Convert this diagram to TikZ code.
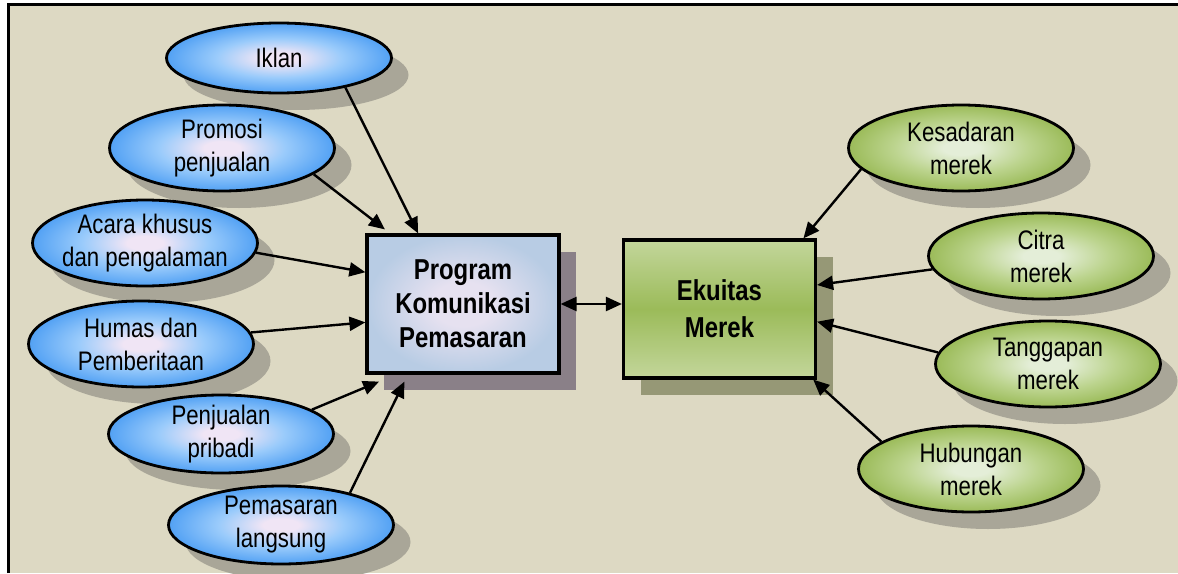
\documentclass[tikz,border=0pt]{standalone}
\usepackage{fontspec}
\setmainfont{Liberation Sans}[FakeStretch=0.83]
\usetikzlibrary{arrows.meta,calc,shadows,shapes.geometric}
\definecolor{bgbeige}{HTML}{DDD9C3}
\definecolor{ellshadow}{HTML}{A9A698}
\definecolor{progshadow}{HTML}{8A8088}
\definecolor{ekushadow}{HTML}{969876}
\definecolor{blueC}{HTML}{F0E5F5}
\definecolor{blueM}{HTML}{9ACBFB}
\definecolor{blueO}{HTML}{52A1F4}
\definecolor{greenC}{HTML}{E4EED8}
\definecolor{greenM}{HTML}{BCD48E}
\definecolor{greenO}{HTML}{9BBB59}
\definecolor{progC}{HTML}{E6E1F0}
\definecolor{progO}{HTML}{B8CCE4}
\definecolor{ekuTop}{HTML}{C3D69B}
\pgfdeclareradialshading{blueglow}{\pgfpointorigin}{color(0bp)=(blueC); color(4bp)=(blueC); color(14bp)=(blueM); color(25bp)=(blueO); color(50bp)=(blueO)}
\pgfdeclareradialshading{greenglow}{\pgfpointorigin}{color(0bp)=(greenC); color(4bp)=(greenC); color(15bp)=(greenM); color(25bp)=(greenO); color(50bp)=(greenO)}
\pgfdeclareradialshading{progglow}{\pgfpointorigin}{color(0bp)=(progC); color(8bp)=(progC); color(25bp)=(progO); color(50bp)=(progO)}

\begin{document}
\begin{tikzpicture}[x=0.5pt,y=-0.5pt,
    ell/.style={ellipse, draw, line width=1.4pt, minimum width=112.5pt, minimum height=43pt, inner xsep=-3pt, inner ysep=-1pt, align=center, font=\fontsize{13.4}{16.5}\selectfont, general shadow={fill=ellshadow, shadow xshift=8.5pt, shadow yshift=-8.5pt}},
    blueell/.style={ell, shade, shading=blueglow},
    greenell/.style={ell, shade, shading=greenglow},
    bigbox/.style={rectangle, draw, line width=1.6pt, minimum width=96pt, minimum height=69pt, align=center, font=\fontsize{14.4}{17}\selectfont\bfseries},
    arrow/.style={-{Triangle[length=8pt,width=7pt]}, line width=1.2pt}
  ]
    \useasboundingbox (0,0) rectangle (1178,573);
    \fill[white] (0,0) rectangle (1178,573);
    \fill[bgbeige] (8,4) rectangle (1178,573);
    \draw[line width=1.5pt] (8,573) -- (8,4) -- (1178,4);

    \node[blueell, minimum height=35pt] (iklan) at (279,58) {Iklan};
    \node[blueell] (promosi) at (222,148) {Promosi\\penjualan};
    \node[blueell] (acara) at (145,243) {Acara khusus\\dan pengalaman};
    \node[blueell] (humas) at (141,344) {Humas dan\\Pemberitaan};
    \node[blueell, minimum height=39pt] (penjualan) at (221,434) {Penjualan\\pribadi};
    \node[blueell, minimum height=39pt] (pemasaran) at (281,525) {Pemasaran\\langsung};

    \node[bigbox, shade, shading=progglow, general shadow={fill=progshadow, shadow xshift=8.5pt, shadow yshift=-8.5pt}] (program) at (463,304) {Program\\Komunikasi\\Pemasaran};
    \node[bigbox, top color=ekuTop, bottom color=ekuTop, middle color=greenO, general shadow={fill=ekushadow, shadow xshift=8.5pt, shadow yshift=-8.5pt}, font=\fontsize{14.4}{18.5}\selectfont\bfseries] (ekuitas) at (719.5,309) {Ekuitas\\Merek};

    \node[greenell] (kesadaran) at (961,148) {Kesadaran\\merek};
    \node[greenell] (citra) at (1041,256) {Citra\\merek};
    \node[greenell] (tanggapan) at (1048,364) {Tanggapan\\merek};
    \node[greenell] (hubungan) at (971,469) {Hubungan\\merek};

    % inputs of the communication program
    \draw[arrow] (iklan.-24) -- ($(program.north west)!0.27!(program.north east)$);
    \draw[arrow] (promosi.-16) -- ($(program.north west)!0.1!(program.north east)+(0,-4)$);
    \draw[arrow] (acara.-5) -- ($(program.north west)!0.275!(program.south west)$);
    \draw[arrow] (humas.6) -- ($(program.north west)!0.63!(program.south west)$);
    \draw[arrow] (penjualan.15) -- ($(program.south west)!0.07!(program.south east)+(0,7)$);
    \draw[arrow] (pemasaran.25) -- ($(program.south west)!0.2!(program.south east)+(0,7)$);

    \draw[{Triangle[length=8pt,width=7pt]}-{Triangle[length=8pt,width=7pt]}, line width=1.2pt] (program.east) -- (program.east -| ekuitas.west);

    % brand equity parts
    \draw[arrow] (kesadaran.192) -- ($(ekuitas.north west)!0.93!(ekuitas.north east)$);
    \draw[arrow] (citra.187) -- ($(ekuitas.north east)!0.33!(ekuitas.south east)$);
    \draw[arrow] (tanggapan.174) -- ($(ekuitas.north east)!0.59!(ekuitas.south east)$);
    \draw[arrow] (hubungan.163) -- ($(ekuitas.south west)!0.98!(ekuitas.south east)$);
  \end{tikzpicture}
\end{document}
